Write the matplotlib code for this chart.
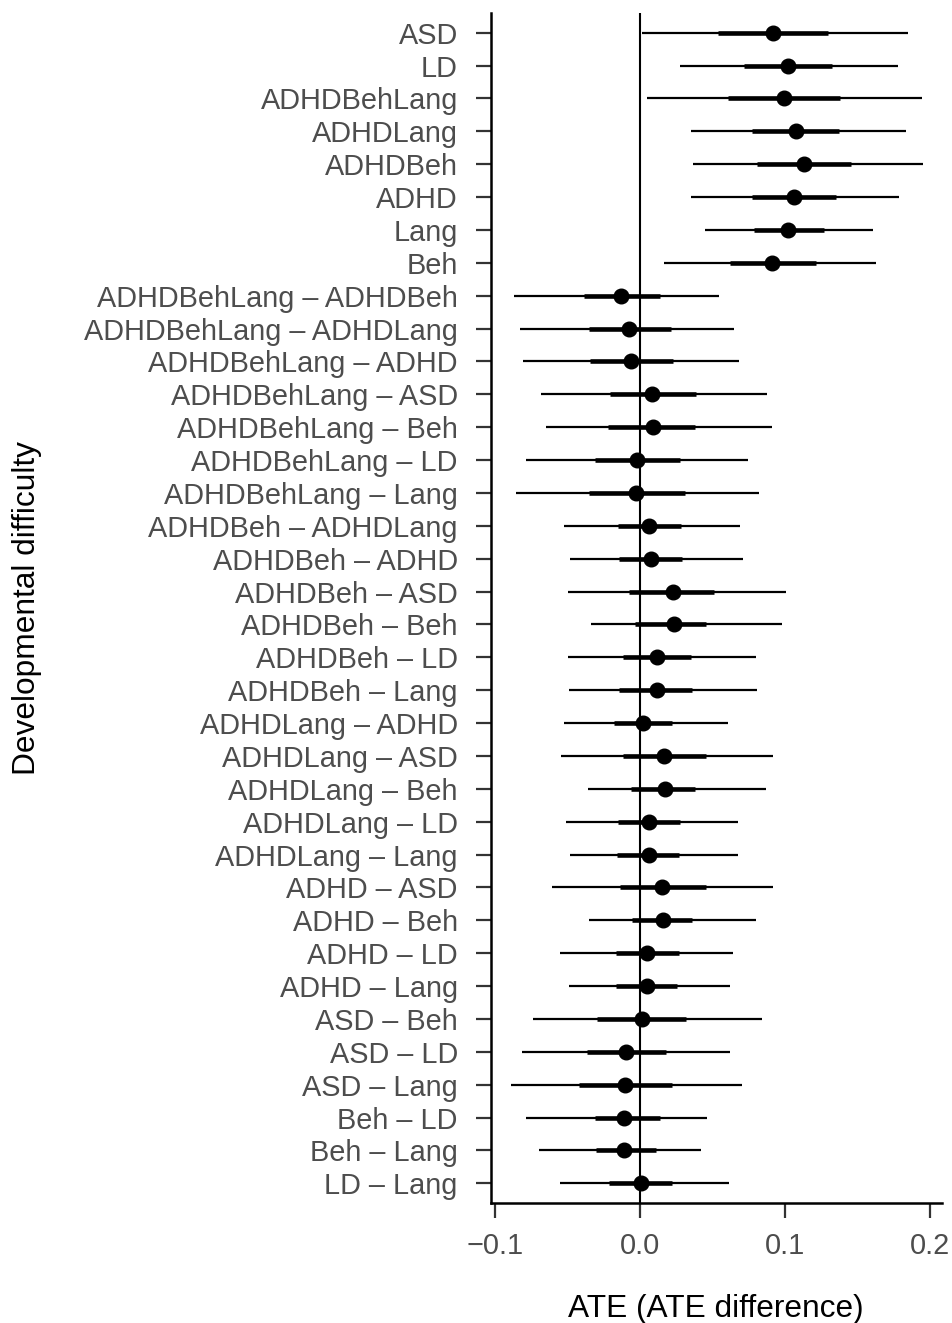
import os
os.environ["MPLBACKEND"] = "Agg"

import matplotlib.pyplot as plt
import numpy as np

# forest plot of ATEs and ATE differences
labels = [
    "ASD", "LD", "ADHDBehLang", "ADHDLang", "ADHDBeh", "ADHD", "Lang", "Beh",
    "ADHDBehLang \u2013 ADHDBeh", "ADHDBehLang \u2013 ADHDLang", "ADHDBehLang \u2013 ADHD",
    "ADHDBehLang \u2013 ASD", "ADHDBehLang \u2013 Beh", "ADHDBehLang \u2013 LD",
    "ADHDBehLang \u2013 Lang", "ADHDBeh \u2013 ADHDLang", "ADHDBeh \u2013 ADHD",
    "ADHDBeh \u2013 ASD", "ADHDBeh \u2013 Beh", "ADHDBeh \u2013 LD", "ADHDBeh \u2013 Lang",
    "ADHDLang \u2013 ADHD", "ADHDLang \u2013 ASD", "ADHDLang \u2013 Beh", "ADHDLang \u2013 LD",
    "ADHDLang \u2013 Lang", "ADHD \u2013 ASD", "ADHD \u2013 Beh", "ADHD \u2013 LD",
    "ADHD \u2013 Lang", "ASD \u2013 Beh", "ASD \u2013 LD", "ASD \u2013 Lang",
    "Beh \u2013 LD", "Beh \u2013 Lang", "LD \u2013 Lang",
]

est = [0.0913, 0.1019, 0.0989, 0.1071, 0.1129, 0.1058, 0.1021, 0.0906,
       -0.0135, -0.0080, -0.0064, 0.0081, 0.0088, -0.0025, -0.0028,
       0.0062, 0.0074, 0.0223, 0.0230, 0.0117, 0.0113,
       0.0016, 0.0166, 0.0172, 0.0060, 0.0058,
       0.0150, 0.0157, 0.0046, 0.0044,
       0.0010, -0.0101, -0.0103, -0.0110, -0.0112, 0.0003]

# outer (thin) interval
lo_out = [0.0010, 0.0276, 0.0048, 0.0347, 0.0361, 0.0352, 0.0444, 0.0166,
          -0.0869, -0.0828, -0.0807, -0.0685, -0.0648, -0.0786, -0.0855,
          -0.0526, -0.0487, -0.0497, -0.0338, -0.0497, -0.0490,
          -0.0524, -0.0547, -0.0359, -0.0510, -0.0483,
          -0.0607, -0.0352, -0.0556, -0.0492,
          -0.0738, -0.0814, -0.0890, -0.0786, -0.0697, -0.0556]
hi_out = [0.1844, 0.1775, 0.1940, 0.1835, 0.1950, 0.1782, 0.1607, 0.1623,
          0.0545, 0.0648, 0.0679, 0.0872, 0.0910, 0.0741, 0.0817,
          0.0690, 0.0708, 0.1003, 0.0975, 0.0796, 0.0805,
          0.0607, 0.0917, 0.0867, 0.0676, 0.0672,
          0.0917, 0.0796, 0.0641, 0.0619,
          0.0837, 0.0619, 0.0703, 0.0460, 0.0416, 0.0610]

# inner (thick) interval
lo_in = [0.0536, 0.0715, 0.0605, 0.0773, 0.0805, 0.0770, 0.0784, 0.0619,
         -0.0386, -0.0354, -0.0345, -0.0211, -0.0221, -0.0312, -0.0354,
         -0.0156, -0.0145, -0.0076, -0.0034, -0.0121, -0.0145,
         -0.0181, -0.0117, -0.0064, -0.0152, -0.0163,
         -0.0140, -0.0059, -0.0166, -0.0168,
         -0.0297, -0.0370, -0.0421, -0.0310, -0.0303, -0.0214]
hi_in = [0.1292, 0.1320, 0.1377, 0.1373, 0.1451, 0.1350, 0.1265, 0.1210,
         0.0138, 0.0210, 0.0226, 0.0382, 0.0377, 0.0274, 0.0308,
         0.0279, 0.0290, 0.0510, 0.0455, 0.0347, 0.0359,
         0.0216, 0.0451, 0.0377, 0.0274, 0.0267,
         0.0451, 0.0354, 0.0267, 0.0253,
         0.0315, 0.0175, 0.0221, 0.0136, 0.0108, 0.0216]

x_ticks = [-0.1, 0.0, 0.1, 0.2]
x_ticklabels = ["\u22120.1", "0.0", "0.1", "0.2"]

plt.rcParams["font.family"] = ["Liberation Sans", "DejaVu Sans"]

fig = plt.figure(figsize=(9.53, 13.23), dpi=100)
ax = fig.add_axes([0.5147, 0.0907, 0.4734, 0.8995])

n = len(labels)
ypos = np.arange(n)[::-1]

ax.axvline(0, color="black", linewidth=1.5, zorder=1)
ax.hlines(ypos, lo_out, hi_out, color="black", linewidth=1.6, zorder=2)
ax.hlines(ypos, lo_in, hi_in, color="black", linewidth=3.3, zorder=3)
ax.plot(est, ypos, "o", color="black", markersize=10.5, zorder=4)

ax.set_ylim(-0.6, n - 1 + 0.6)
ax.set_xlim(-0.1033, 0.2079)
ax.set_yticks(ypos)
ax.set_yticklabels(labels)
ax.set_xticks(x_ticks)
ax.set_xticklabels(x_ticklabels)

ax.spines["top"].set_visible(False)
ax.spines["right"].set_visible(False)
for side in ["left", "bottom"]:
    ax.spines[side].set_linewidth(1.8)
    ax.spines[side].set_color("black")

ax.tick_params(axis="both", colors="#333333", labelcolor="#4D4D4D",
               labelsize=20.8, length=11, width=1.6)
ax.tick_params(axis="y", pad=12.5)
ax.tick_params(axis="x", pad=10)

ax.set_xlabel("ATE (ATE difference)", fontsize=22.8, color="black", labelpad=24)
ax.set_ylabel("Developmental difficulty", fontsize=22.8, color="black")
ax.yaxis.set_label_coords(-0.994, 0.5)

fig.savefig("out.png", dpi=100)
